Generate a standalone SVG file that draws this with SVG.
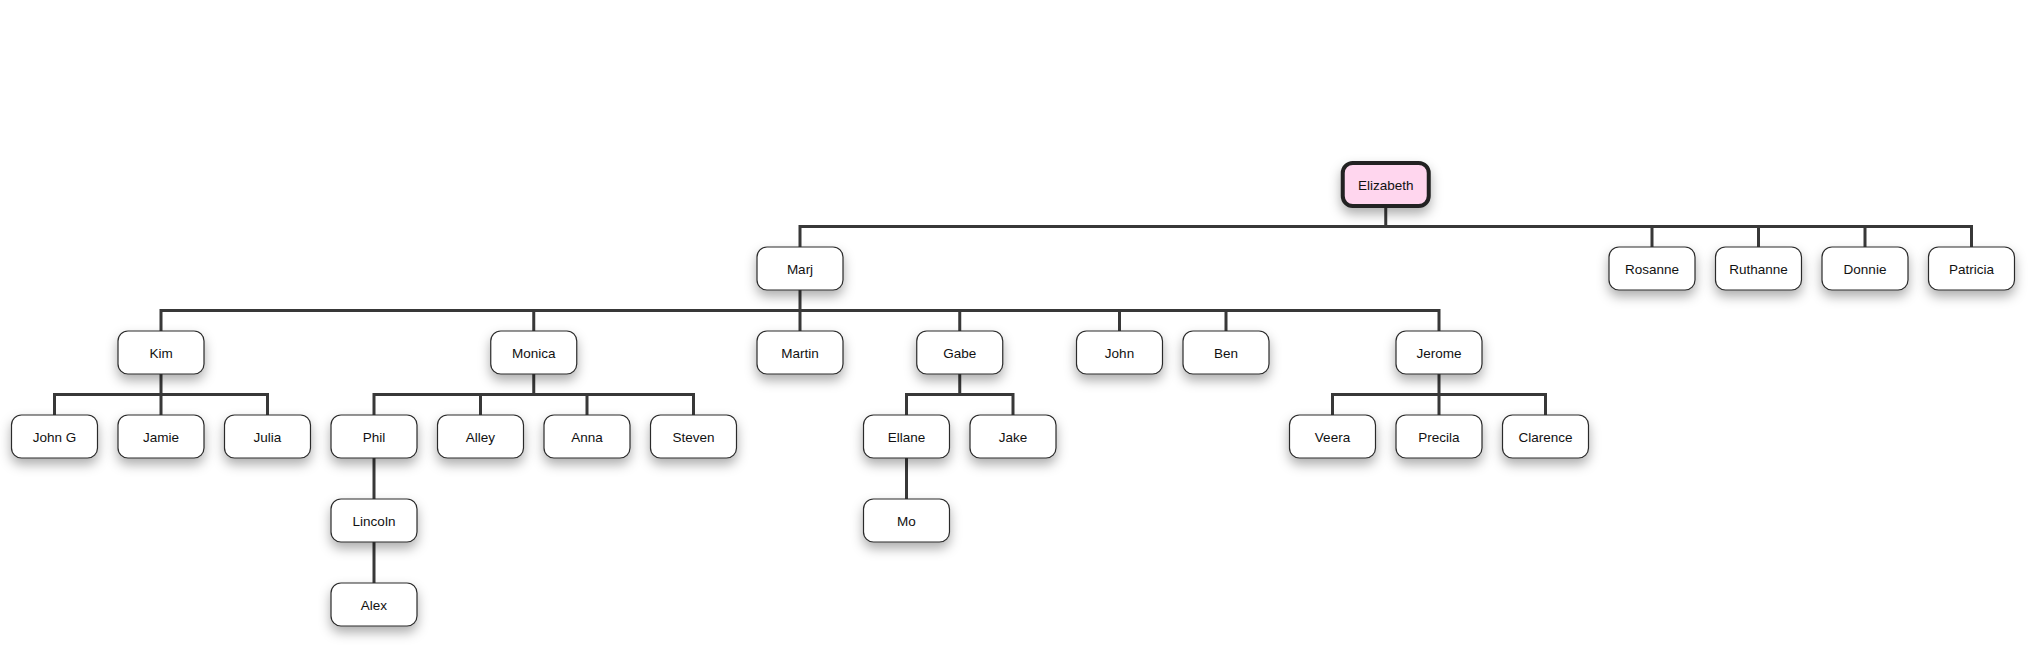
<svg xmlns="http://www.w3.org/2000/svg" width="2030" height="657" viewBox="0 0 2030 657">
<style>
.c{fill:none;stroke:#383838;stroke-width:3;stroke-linecap:square;stroke-linejoin:miter}
.n rect{fill:#ffffff;stroke:#2b2b2b;stroke-width:1.2;filter:url(#sh)}
.n text{font-family:"Liberation Sans",Arial,sans-serif;font-size:13.5px;fill:#111;text-anchor:middle}
#n-elizabeth rect{fill:#ffd6ee;stroke:#222;stroke-width:4}
</style>
<defs>
<filter id="sh" x="-40%" y="-50%" width="180%" height="220%">
<feDropShadow dx="0" dy="6" stdDeviation="6" flood-color="#000" flood-opacity="0.32"/>
</filter>
</defs>
<rect width="2030" height="657" fill="#ffffff"/>
<g id="connectors">
<path class="c" d="M1385.75 206 V226.5 M800 247 V226.5 H1971.5 V247 M1652 226.5 V247 M1758.5 226.5 V247 M1865 226.5 V247"/>
<path class="c" d="M800 290 V310.5 M161 331 V310.5 H1439 V331 M533.75 310.5 V331 M800 310.5 V331 M959.75 310.5 V331 M1119.5 310.5 V331 M1226 310.5 V331"/>
<path class="c" d="M161 374 V394.5 M54.5 415 V394.5 H267.5 V415 M161 394.5 V415"/>
<path class="c" d="M533.75 374 V394.5 M374 415 V394.5 H693.5 V415 M480.5 394.5 V415 M587 394.5 V415"/>
<path class="c" d="M959.75 374 V394.5 M906.5 415 V394.5 H1013 V415"/>
<path class="c" d="M1439 374 V394.5 M1332.5 415 V394.5 H1545.5 V415 M1439 394.5 V415"/>
<path class="c" d="M374 458 V499 M374 542 V583 M906.5 458 V499"/>
</g>
<g id="n-elizabeth" class="n"><rect x="1342.75" y="163" width="86" height="43" rx="10"/><text x="1385.75" y="190">Elizabeth</text></g>
<g id="n-marj" class="n"><rect x="757" y="247" width="86" height="43" rx="10"/><text x="800" y="274">Marj</text></g>
<g id="n-rosanne" class="n"><rect x="1609" y="247" width="86" height="43" rx="10"/><text x="1652" y="274">Rosanne</text></g>
<g id="n-ruthanne" class="n"><rect x="1715.5" y="247" width="86" height="43" rx="10"/><text x="1758.5" y="274">Ruthanne</text></g>
<g id="n-donnie" class="n"><rect x="1822" y="247" width="86" height="43" rx="10"/><text x="1865" y="274">Donnie</text></g>
<g id="n-patricia" class="n"><rect x="1928.5" y="247" width="86" height="43" rx="10"/><text x="1971.5" y="274">Patricia</text></g>
<g id="n-kim" class="n"><rect x="118" y="331" width="86" height="43" rx="10"/><text x="161" y="358">Kim</text></g>
<g id="n-monica" class="n"><rect x="490.75" y="331" width="86" height="43" rx="10"/><text x="533.75" y="358">Monica</text></g>
<g id="n-martin" class="n"><rect x="757" y="331" width="86" height="43" rx="10"/><text x="800" y="358">Martin</text></g>
<g id="n-gabe" class="n"><rect x="916.75" y="331" width="86" height="43" rx="10"/><text x="959.75" y="358">Gabe</text></g>
<g id="n-john" class="n"><rect x="1076.5" y="331" width="86" height="43" rx="10"/><text x="1119.5" y="358">John</text></g>
<g id="n-ben" class="n"><rect x="1183" y="331" width="86" height="43" rx="10"/><text x="1226" y="358">Ben</text></g>
<g id="n-jerome" class="n"><rect x="1396" y="331" width="86" height="43" rx="10"/><text x="1439" y="358">Jerome</text></g>
<g id="n-johng" class="n"><rect x="11.5" y="415" width="86" height="43" rx="10"/><text x="54.5" y="442">John G</text></g>
<g id="n-jamie" class="n"><rect x="118" y="415" width="86" height="43" rx="10"/><text x="161" y="442">Jamie</text></g>
<g id="n-julia" class="n"><rect x="224.5" y="415" width="86" height="43" rx="10"/><text x="267.5" y="442">Julia</text></g>
<g id="n-phil" class="n"><rect x="331" y="415" width="86" height="43" rx="10"/><text x="374" y="442">Phil</text></g>
<g id="n-alley" class="n"><rect x="437.5" y="415" width="86" height="43" rx="10"/><text x="480.5" y="442">Alley</text></g>
<g id="n-anna" class="n"><rect x="544" y="415" width="86" height="43" rx="10"/><text x="587" y="442">Anna</text></g>
<g id="n-steven" class="n"><rect x="650.5" y="415" width="86" height="43" rx="10"/><text x="693.5" y="442">Steven</text></g>
<g id="n-ellane" class="n"><rect x="863.5" y="415" width="86" height="43" rx="10"/><text x="906.5" y="442">Ellane</text></g>
<g id="n-jake" class="n"><rect x="970" y="415" width="86" height="43" rx="10"/><text x="1013" y="442">Jake</text></g>
<g id="n-veera" class="n"><rect x="1289.5" y="415" width="86" height="43" rx="10"/><text x="1332.5" y="442">Veera</text></g>
<g id="n-precila" class="n"><rect x="1396" y="415" width="86" height="43" rx="10"/><text x="1439" y="442">Precila</text></g>
<g id="n-clarence" class="n"><rect x="1502.5" y="415" width="86" height="43" rx="10"/><text x="1545.5" y="442">Clarence</text></g>
<g id="n-lincoln" class="n"><rect x="331" y="499" width="86" height="43" rx="10"/><text x="374" y="526">Lincoln</text></g>
<g id="n-mo" class="n"><rect x="863.5" y="499" width="86" height="43" rx="10"/><text x="906.5" y="526">Mo</text></g>
<g id="n-alex" class="n"><rect x="331" y="583" width="86" height="43" rx="10"/><text x="374" y="610">Alex</text></g>
</svg>
